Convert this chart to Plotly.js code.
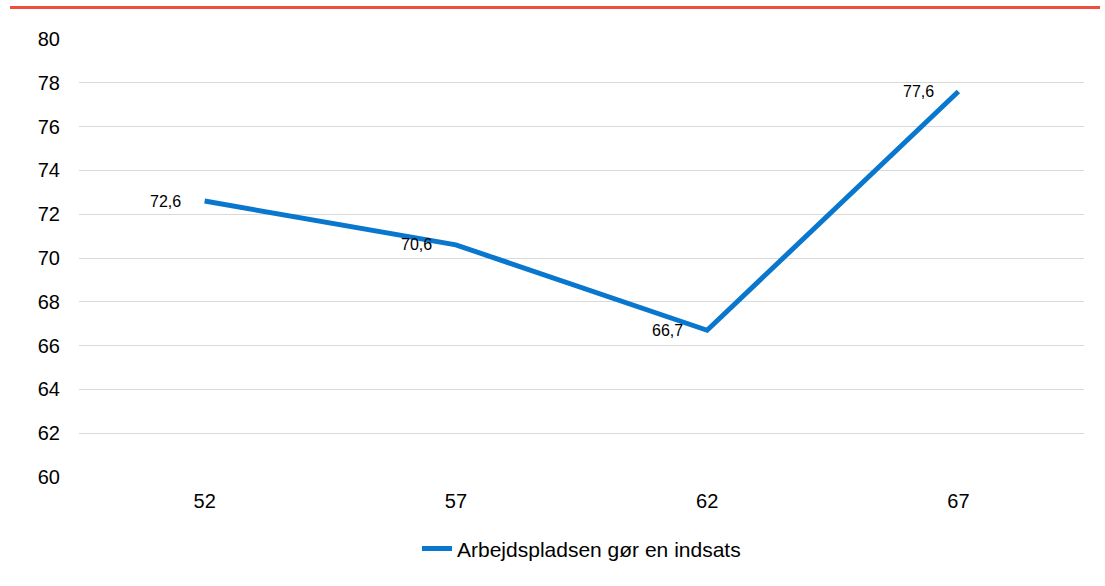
<!DOCTYPE html>
<html><head><meta charset="utf-8">
<script src="https://cdn.plot.ly/plotly-3.0.1.min.js"></script>
<style>body{margin:0;background:#fff}#topbar{position:absolute;left:10px;top:6px;width:1090px;height:3px;background:#F24C3D}#chart{width:1105px;height:586px}</style>
</head><body>
<div id="chart"></div>
<div id="topbar"></div>
<script>
const categories = ["52", "57", "62", "67"];
const values = [72.6, 70.6, 66.7, 77.6];
const seriesName = "Arbejdspladsen gør en indsats";
const yTicks = [60, 62, 64, 66, 68, 70, 72, 74, 76, 78, 80];

const fmt = v => v.toFixed(1).replace('.', ',');

const trace = {
  x: categories, y: values, type: 'scatter', mode: 'lines', name: seriesName,
  line: {color: '#0A77CF', width: 5}, showlegend: true, hoverinfo: 'skip'
};
const annotations = categories.map((c, i) => ({
  x: i, y: values[i], xref: 'x', yref: 'y', text: fmt(values[i]), showarrow: false,
  xanchor: 'right', yanchor: 'middle', xshift: -22, yshift: 0,
  font: {family: 'Liberation Sans, Arial, sans-serif', size: 16, color: '#000'}
}));
const layout = {
  width: 1105, height: 586,
  margin: {l: 79, r: 21, t: 39, b: 109},
  paper_bgcolor: '#fff', plot_bgcolor: '#fff',
  font: {family: 'Liberation Sans, Arial, sans-serif', size: 20, color: '#000'},
  xaxis: {type: 'category', range: [-0.5, 3.5], showgrid: false, zeroline: false, showline: false,
          ticks: '', ticklabelstandoff: 10, tickfont: {size: 20}},
  yaxis: {range: [60, 80], tickvals: yTicks, showgrid: true, gridcolor: '#D9D9D9', gridwidth: 1,
          zeroline: false, showline: false, ticks: '', ticklabelstandoff: 18, tickfont: {size: 20}},
  showlegend: true,
  legend: {orientation: 'h', x: 0.5, xanchor: 'center', y: -0.164, yanchor: 'middle',
           font: {size: 21}},
  annotations: annotations
};
Plotly.newPlot('chart', [trace], layout, {displayModeBar: false, staticPlot: true});
</script>
</body></html>
